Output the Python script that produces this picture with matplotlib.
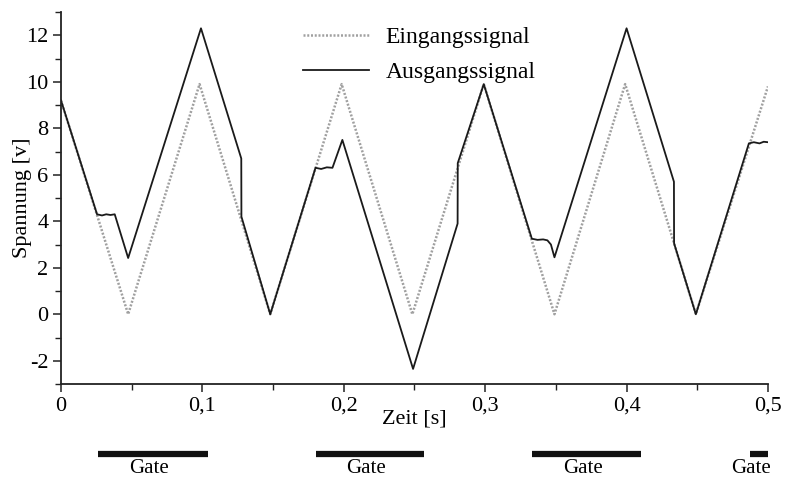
import numpy as np
import matplotlib.pyplot as plt
from matplotlib.ticker import MultipleLocator, FuncFormatter

plt.rcParams['font.family'] = ['Liberation Serif', 'DejaVu Serif']

# Eingangssignal: Dreieck zwischen 0 und ~10 V
t_in = [0.0, 0.0475, 0.098, 0.148, 0.1985, 0.2485, 0.299, 0.349, 0.399, 0.449, 0.5]
u_in = [9.2, 0.0, 9.9, 0.0, 9.9, 0.0, 9.9, 0.0, 9.9, 0.0, 9.8]

# Ausgangssignal (Knickpunkte)
t_out = [0.0, 0.0255, 0.029, 0.032, 0.035, 0.038, 0.0475, 0.099, 0.1275, 0.1276,
         0.148, 0.180, 0.184, 0.188, 0.192, 0.199, 0.249, 0.2805, 0.2806, 0.299,
         0.333, 0.337, 0.341, 0.344, 0.3465, 0.349, 0.400, 0.4335, 0.4336, 0.449,
         0.4865, 0.490, 0.494, 0.497, 0.5]
u_out = [9.2, 4.3, 4.25, 4.3, 4.27, 4.3, 2.42, 12.3, 6.7, 4.2,
         0.0, 6.3, 6.25, 6.32, 6.3, 7.5, -2.35, 3.9, 6.5, 9.9,
         3.25, 3.2, 3.22, 3.18, 3.0, 2.45, 12.3, 5.7, 3.05, 0.0,
         7.35, 7.4, 7.35, 7.42, 7.4]

# Gate-Intervalle
gate_start = [0.026, 0.180, 0.333, 0.487]
gate_end = [0.104, 0.257, 0.410, 0.500]
gate_label_x = [0.062, 0.216, 0.369, 0.488]

fig = plt.figure(figsize=(7.85, 4.79), dpi=100)
ax = fig.add_axes([0.0777, 0.1983, 0.9006, 0.7766])

ax.plot(t_in, u_in, color='#a0a0a0', lw=1.8, linestyle=(0, (0.8, 0.7)),
        label='Eingangssignal')
ax.plot(t_out, u_out, color='#1a1a1a', lw=1.3, label='Ausgangssignal')

ax.set_xlim(0, 0.5)
ax.set_ylim(-3, 13)
ax.spines['top'].set_visible(False)
ax.spines['right'].set_visible(False)
for s in ('left', 'bottom'):
    ax.spines[s].set_linewidth(1.3)
    ax.spines[s].set_color('#222222')

ax.xaxis.set_major_locator(MultipleLocator(0.1))
ax.xaxis.set_minor_locator(MultipleLocator(0.05))
ax.yaxis.set_major_locator(MultipleLocator(2))
ax.yaxis.set_minor_locator(MultipleLocator(1))
ax.set_yticks(range(-2, 13, 2))
ax.xaxis.set_major_formatter(FuncFormatter(
    lambda v, p: '0' if abs(v) < 1e-9 else ('%.1f' % v).replace('.', ',')))
ax.yaxis.set_major_formatter(FuncFormatter(lambda v, p: '%d' % v))
ax.tick_params(which='major', length=6, width=1.1, labelsize=16, color='#222222', pad=3)
ax.tick_params(which='minor', length=4, width=1.0, color='#222222')

ax.set_xlabel('Zeit [s]', fontsize=16, labelpad=-4)
ax.set_ylabel('Spannung [v]', fontsize=16, labelpad=-4)

ax.legend(loc='upper left', bbox_to_anchor=(0.342, 0.96), frameon=False,
          fontsize=17, borderpad=0, borderaxespad=0, labelspacing=0.55,
          handlelength=2.8, handletextpad=0.7)

# Gate-Balken unterhalb der Zeitachse
trans = ax.get_xaxis_transform()
ax.hlines([-0.188] * len(gate_start), gate_start, gate_end, colors='#111111',
          lw=4.5, transform=trans, clip_on=False)
for gx in gate_label_x:
    ax.text(gx, -0.228, 'Gate', transform=trans, ha='center', va='center',
            fontsize=15, clip_on=False)

fig.savefig('out.png', dpi=100)
